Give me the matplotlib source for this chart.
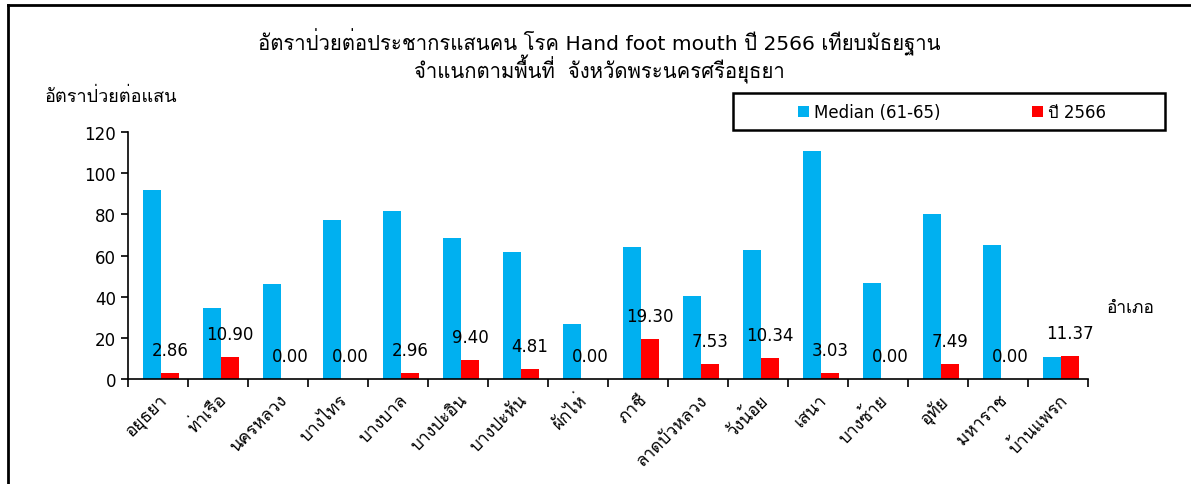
import numpy as np
import matplotlib
matplotlib.use('Agg')
import matplotlib.pyplot as plt
from matplotlib import font_manager
from matplotlib.ft2font import FT2Font
from matplotlib.lines import Line2D
from matplotlib.patches import Rectangle

# data
districts = ['อยุธยา', 'ท่าเรือ', 'นครหลวง', 'บางไทร', 'บางบาล', 'บางปะอิน', 'บางปะหัน', 'ผักไห่',
             'ภาชี', 'ลาดบัวหลวง', 'วังน้อย', 'เสนา', 'บางซ้าย', 'อุทัย', 'มหาราช', 'บ้านแพรก']
median_61_65 = [91.6, 34.4, 46.2, 77.1, 81.4, 68.3, 61.9, 26.7,
                64.3, 40.5, 62.8, 111.0, 46.7, 80.1, 65.1, 10.8]
rate_2566 = [2.86, 10.90, 0.00, 0.00, 2.96, 9.40, 4.81, 0.00,
             19.30, 7.53, 10.34, 3.03, 0.00, 7.49, 0.00, 11.37]
yticks = [0, 20, 40, 60, 80, 100, 120]

# find a font that has Thai glyphs
thai_font = None
for f in font_manager.fontManager.ttflist:
    try:
        if 0x0E01 in FT2Font(f.fname).get_charmap():
            thai_font = f.name
            break
    except Exception:
        pass
fams = ['DejaVu Sans']
if thai_font:
    fams = ['DejaVu Sans', thai_font]
plt.rcParams['font.family'] = fams

fig = plt.figure(figsize=[11.91, 4.85], dpi=100)
ax = fig.add_axes([128/1191, 105/485, 960/1191, 247/485])

x = np.arange(len(districts))
w = 0.3
ax.bar(x - w/2 + 0.05, median_61_65, w, color='#00B0F0', label='Median (61-65)')
ax.bar(x + w/2 + 0.05, rate_2566, w, color='#FF0000', label='ปี 2566')
for xi, v in zip(x, rate_2566):
    ax.annotate('%.2f' % v, (xi + w/2 + 0.05, v), xytext=(0, 10), textcoords='offset points',
                ha='center', va='bottom', fontsize=12)

ax.set_xlim(-0.5, len(districts) - 0.5)
ax.set_ylim(0, 120)
ax.set_yticks(yticks)
ax.tick_params(axis='y', labelsize=12, length=5, width=1.2, direction='out')
ax.set_xticks(np.arange(len(districts) + 1) - 0.5)
ax.set_xticklabels([])
ax.tick_params(axis='x', which='major', length=6, width=1.2, direction='out')
ax.set_xticks(x, minor=True)
ax.set_xticklabels(districts, minor=True, rotation=45, ha='right', rotation_mode='anchor', fontsize=12.5)
ax.tick_params(axis='x', which='minor', length=0, pad=8)
for s in ['top', 'right']:
    ax.spines[s].set_visible(False)
for s in ['left', 'bottom']:
    ax.spines[s].set_linewidth(1.2)

fig.text(0.503, 0.913, 'อัตราป่วยต่อประชากรแสนคน โรค Hand foot mouth ปี 2566 เทียบมัธยฐาน',
         ha='center', va='center', fontsize=14.6)
fig.text(0.503, 0.856, 'จำแนกตามพื้นที่  จังหวัดพระนครศรีอยุธยา',
         ha='center', va='center', fontsize=14.6)
fig.text(45/1191, 1 - 97/485, 'อัตราป่วยต่อแสน', ha='left', va='center', fontsize=13)
fig.text(1107/1191, 1 - 308/485, 'อำเภอ', ha='left', va='center', fontsize=12.5)

# legend box drawn by hand, entries centered inside
fig.add_artist(Rectangle((733/1191, 1 - 131/485), 432/1191, 37/485, transform=fig.transFigure,
                         fill=False, edgecolor='black', lw=1.8))
fig.legend(loc='center', bbox_to_anchor=(952/1191, 1 - 113/485), ncol=2, fontsize=12,
           handlelength=0.65, handleheight=0.65, handletextpad=0.3, columnspacing=5.5,
           frameon=False, borderaxespad=0)

# outer chart frame
fig.add_artist(Line2D([8/1191, 1], [1 - 6/485, 1 - 6/485], color='black', lw=2))
fig.add_artist(Line2D([8/1191, 8/1191], [0, 1 - 6/485], color='black', lw=2))

fig.savefig('out.png', dpi=100)
